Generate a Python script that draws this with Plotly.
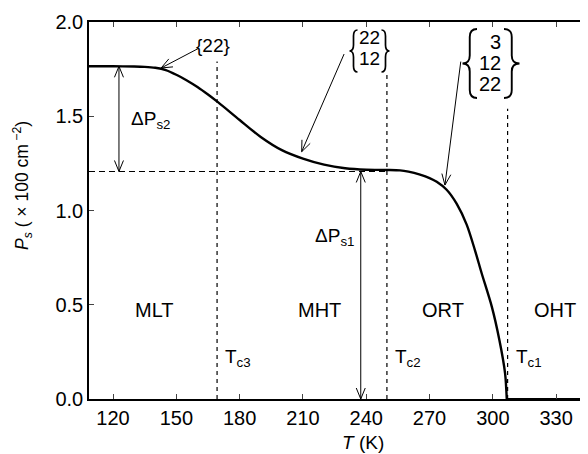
import plotly.graph_objects as go
import math

# ---- data ----
T_curve = [108.6, 120, 130, 135, 140, 145, 150, 155, 160, 165, 170, 180, 190, 200, 210, 220,
           230, 240, 250, 256, 260, 265.5, 270, 273.4, 278.1, 282.9, 287.6, 291.5, 294.7,
           299.5, 303.1, 305.8, 306.6]
P_curve = [1.765, 1.765, 1.764, 1.762, 1.757, 1.745, 1.72, 1.69, 1.655, 1.615, 1.572, 1.48,
           1.39, 1.32, 1.275, 1.243, 1.224, 1.216, 1.215, 1.213, 1.206, 1.19, 1.172, 1.152,
           1.11, 1.035, 0.925, 0.79, 0.667, 0.49, 0.313, 0.136, 0.0]
T_zero = [306.6, 345.1]
P_zero = [0.0, 0.0]

Tc_names = ["T<sub>c3</sub>", "T<sub>c2</sub>", "T<sub>c1</sub>"]
Tc_vals = [169.3, 249.8, 307.0]
Tc_tops = [1.79, 1.72, 1.54]

P_mid = 1.207
P_low_plateau = 1.765

phases = ["MLT", "MHT", "ORT", "OHT"]
phase_T = [139.5, 218, 276.5, 329.5]
phase_P = 0.47

x_ticks = [120, 150, 180, 210, 240, 270, 300, 330]
y_ticks = [0.0, 0.5, 1.0, 1.5, 2.0]

X_RANGE = [108.6, 345.1]
Y_RANGE = [0, 2.0]

OFF = 8  # default page body margin
W, H = 588 - OFF, 454 - OFF
PX0, PY0 = 89, 22          # plot-area top-left in window pixels
PH = 377
ML, MR, MT = PX0 - OFF, 0, PY0 - OFF
MB = H - MT - PH
PW = W - ML - MR
sx = PW / (X_RANGE[1] - X_RANGE[0])
sy = PH / (Y_RANGE[1] - Y_RANGE[0])
PYB = PY0 + PH


def px2d(px, py):
    return X_RANGE[0] + (px - PX0) / sx, Y_RANGE[0] + (PYB - py) / sy


fig = go.Figure()

fig.add_trace(go.Scatter(x=T_curve, y=P_curve, mode="lines",
                         line=dict(color="black", width=2.4, shape="spline", smoothing=0.8),
                         hoverinfo="skip"))
fig.add_trace(go.Scatter(x=T_zero, y=P_zero, mode="lines",
                         line=dict(color="black", width=2.0), hoverinfo="skip"))

fig.add_trace(go.Scatter(x=[X_RANGE[0], Tc_vals[1]], y=[P_mid, P_mid], mode="lines",
                         line=dict(color="black", width=1.2, dash="6px,4px"), hoverinfo="skip"))

for t, top in zip(Tc_vals, Tc_tops):
    fig.add_trace(go.Scatter(x=[t, t], y=[0, top], mode="lines",
                             line=dict(color="black", width=1.2, dash="4px,4px"), hoverinfo="skip"))


def arrow(t0, p0, t1, p1, heads=("end",), L=11, Wd=4.5, width=1.0):
    xs, ys = [t0, t1, None], [p0, p1, None]

    def head(ta, pa, tb, pb):
        dx = (tb - ta) * sx
        dy = (pb - pa) * sy
        n = math.hypot(dx, dy)
        ux, uy = dx / n, dy / n
        nx, ny = -uy, ux
        out_x, out_y = [], []
        for s in (1, -1):
            px = -L * ux + s * Wd * nx
            py = -L * uy + s * Wd * ny
            out_x.append(tb + px / sx)
            out_y.append(pb + py / sy)
        return [out_x[0], tb, out_x[1], None], [out_y[0], pb, out_y[1], None]

    if "end" in heads:
        a, b = head(t0, p0, t1, p1)
        xs += a; ys += b
    if "start" in heads:
        a, b = head(t1, p1, t0, p0)
        xs += a; ys += b
    fig.add_trace(go.Scatter(x=xs, y=ys, mode="lines", line=dict(color="black", width=width),
                             hoverinfo="skip"))


arrow(160.5, 1.86, 142.8, 1.756)
arrow(229.5, 1.83, 209.4, 1.312)
arrow(284.8, 1.79, 277.3, 1.135)
arrow(122.8, P_mid, 122.8, P_low_plateau, heads=("end", "start"))
arrow(237.4, 0.0, 237.4, P_mid, heads=("end", "start"))


def brace(xt, xe, top, bot, r=6, width=1.7):
    """Curly brace in window pixels: xt = tip x, xe = hook-end x."""
    xb = (xt + xe) / 2
    mid = (top + bot) / 2
    pts = [(xe, top), (xb, top), (xb, top + r), (xb, mid - r), (xb, mid), (xt, mid),
           (xb, mid), (xb, mid + r), (xb, bot - r), (xb, bot), (xe, bot)]
    d = [px2d(*p) for p in pts]
    f = lambda q: f"{q[0]:.4f},{q[1]:.5f}"
    path = (f"M{f(d[0])} Q{f(d[1])} {f(d[2])} L{f(d[3])} Q{f(d[4])} {f(d[5])} "
            f"Q{f(d[6])} {f(d[7])} L{f(d[8])} Q{f(d[9])} {f(d[10])}")
    fig.add_shape(type="path", path=path, xref="x", yref="y",
                  line=dict(color="black", width=width))


brace(349.5, 357.5, 30, 72)
brace(389.5, 381.5, 30, 72)
brace(462.5, 477, 29, 98, r=8, width=1.9)
brace(519.5, 504, 29, 98, r=8, width=1.9)

ann = []
font = "Liberation Sans"


def txt(px, py, s, size=16, xanchor="center", yanchor="middle", **kw):
    ann.append(dict(x=(px - PX0) / PW, y=(PYB - py) / PH, xref="paper", yref="paper",
                    text=s, showarrow=False,
                    font=dict(family=font, size=size, color="black"),
                    xanchor=xanchor, yanchor=yanchor, **kw))


def txt_d(x, y, s, size=16, xanchor="center", yanchor="middle", **kw):
    ann.append(dict(x=x, y=y, xref="x", yref="y", text=s, showarrow=False,
                    font=dict(family=font, size=size, color="black"),
                    xanchor=xanchor, yanchor=yanchor, **kw))


for name, t in zip(phases, phase_T):
    txt_d(t, phase_P, name, size=20)

for name, t in zip(Tc_names, Tc_vals):
    txt_d(t + 3.0, 0.22, name, size=19, xanchor="left")

txt(150, 120, "ΔP<sub>s2</sub>", size=19)
txt(334, 237, "ΔP<sub>s1</sub>", size=19)

txt(213, 45, "{22}", size=19)
txt(369, 38, "22", size=19)
txt(369, 58.5, "12", size=19)
txt(503, 41.5, "3", size=20, xanchor="right")
txt(503, 62.5, "12", size=20, xanchor="right")
txt(503, 84, "22", size=20, xanchor="right")

txt(363, 442, "<i>T</i> (K)", size=19)
txt(22, 186, "<i>P<sub>s</sub></i> ( × 100 cm<sup> −2</sup>)", size=17.5, textangle=-90)

fig.update_layout(
    width=W, height=H,
    margin=dict(l=ML, r=MR, t=MT, b=MB, pad=0),
    plot_bgcolor="white", paper_bgcolor="white",
    showlegend=False,
    annotations=ann,
    xaxis=dict(range=X_RANGE, tickvals=x_ticks, ticks="inside", ticklen=5, tickwidth=1.2,
               showline=True, linecolor="black", linewidth=1.5, mirror="ticks",
               showgrid=False, zeroline=False,
               tickfont=dict(family=font, size=20, color="black")),
    yaxis=dict(range=Y_RANGE, tickvals=y_ticks, tickformat=".1f", ticks="inside", ticklen=5,
               tickwidth=1.2, showline=True, linecolor="black", linewidth=1.5,
               showgrid=False, zeroline=False,
               tickfont=dict(family=font, size=20, color="black")),
)

fig.write_html("out.html")
